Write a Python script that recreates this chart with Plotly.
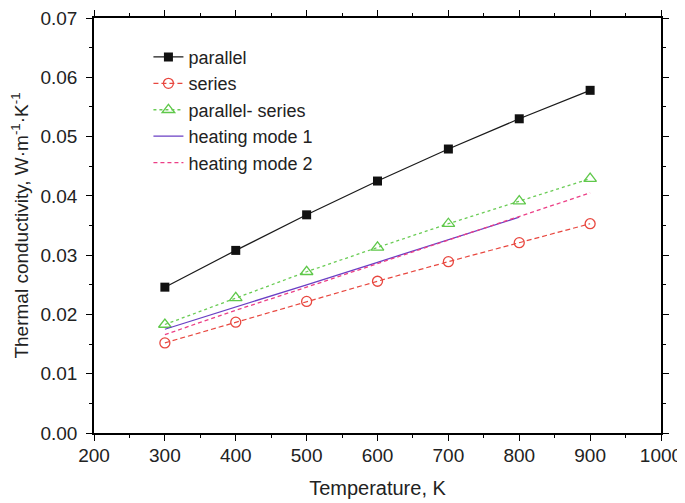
import plotly.graph_objects as go

temps = [300, 400, 500, 600, 700, 800, 900]
parallel = [0.0246, 0.0308, 0.0368, 0.0425, 0.0479, 0.0530, 0.0578]
series = [0.0152, 0.0187, 0.0222, 0.0256, 0.0289, 0.0321, 0.0353]
parallel_series = [0.0183, 0.0228, 0.0272, 0.0313, 0.0353, 0.0391, 0.0429]
heat1_t = [300, 400, 500, 600, 700, 800]
heat1 = [0.0175, 0.0212, 0.0250, 0.0288, 0.0326, 0.0364]
heat2_t = [300, 400, 500, 600, 700, 800, 900]
heat2 = [0.0166, 0.0207, 0.0246, 0.0286, 0.0326, 0.0366, 0.0405]

FONT = "Liberation Sans, Arial, sans-serif"

fig = go.Figure()
fig.add_trace(go.Scatter(x=temps, y=parallel, name="parallel", mode="lines+markers",
                         line=dict(color="#1a1a1a", width=1.2),
                         marker=dict(symbol="square", size=9, color="#111111")))
fig.add_trace(go.Scatter(x=temps, y=series, name="series", mode="lines+markers",
                         line=dict(color="#e8473f", width=1.2, dash="5px,3px"),
                         marker=dict(symbol="circle-open", size=10, color="#e8473f", line=dict(width=1.3))))
fig.add_trace(go.Scatter(x=temps, y=parallel_series, name="parallel- series", mode="lines+markers",
                         line=dict(color="#6acc55", width=1.3, dash="dot"),
                         marker=dict(symbol="triangle-up-open", size=11, color="#5fc84a", line=dict(width=1.3))))
fig.add_trace(go.Scatter(x=heat1_t, y=heat1, name="heating mode 1", mode="lines",
                         line=dict(color="#6a3fc4", width=1.3)))
fig.add_trace(go.Scatter(x=heat2_t, y=heat2, name="heating mode 2", mode="lines",
                         line=dict(color="#ec3f86", width=1.3, dash="4px,3px")))

axis_common = dict(showline=True, linecolor="black", linewidth=1.5, mirror="allticks",
                   ticks="outside", ticklen=6, tickwidth=1.3, tickcolor="black",
                   showgrid=False, zeroline=False, automargin=False,
                   ticklabeloverflow="allow",
                   tickfont=dict(family=FONT, size=19, color="#222"))

fig.update_xaxes(range=[200, 1000], dtick=100, tick0=200, ticklabelstandoff=-2,
                 minor=dict(dtick=50, ticks="outside", ticklen=3, tickcolor="black"),
                 title=dict(text="Temperature, K", font=dict(family=FONT, size=20, color="#222"), standoff=16),
                 **axis_common)
fig.update_yaxes(range=[0, 0.07], dtick=0.01, tickformat=".2f", ticklabelstandoff=5,
                 minor=dict(dtick=0.005, ticks="outside", ticklen=3, tickcolor="black"),
                 title=dict(text="Thermal conductivity, W·m<sup>-1</sup>·K<sup>-1</sup>",
                            font=dict(family=FONT, size=19, color="#222"), standoff=8),
                 **axis_common)

fig.update_layout(width=677, height=495, margin=dict(l=86, r=24, t=10, b=70),
                  plot_bgcolor="white", paper_bgcolor="white",
                  legend=dict(x=0.096, y=0.95, xanchor="left", yanchor="top",
                              bgcolor="rgba(0,0,0,0)", tracegroupgap=0,
                              font=dict(family=FONT, size=18, color="#222")),
                  )
fig.write_html("out.html")
